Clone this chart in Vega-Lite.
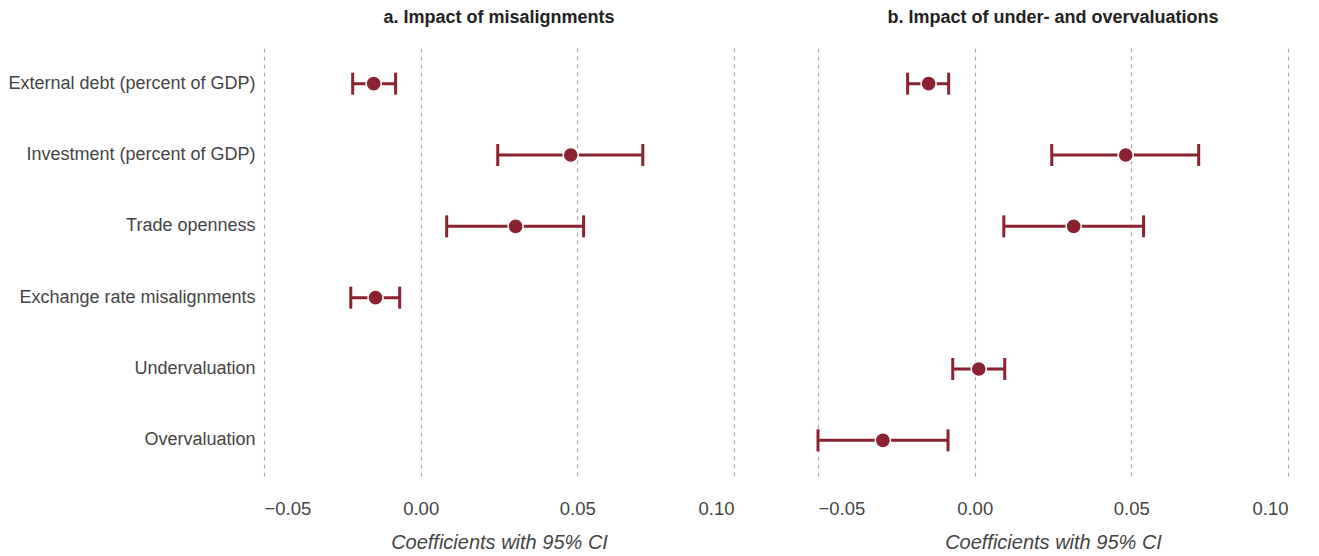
{
  "$schema": "https://vega.github.io/schema/vega-lite/v6.json",
  "padding": {"left": 7, "top": 9, "right": 5, "bottom": 5},
  "background": "white",
  "data": {"values": [
    {"panel": "a. Impact of misalignments", "variable": "External debt (percent of GDP)", "coef": -0.015, "lo": -0.0217, "hi": -0.008},
    {"panel": "a. Impact of misalignments", "variable": "Investment (percent of GDP)", "coef": 0.0479, "lo": 0.0246, "hi": 0.0709},
    {"panel": "a. Impact of misalignments", "variable": "Trade openness", "coef": 0.0303, "lo": 0.0083, "hi": 0.052},
    {"panel": "a. Impact of misalignments", "variable": "Exchange rate misalignments", "coef": -0.0144, "lo": -0.0223, "hi": -0.0067},
    {"panel": "b. Impact of under- and overvaluations", "variable": "External debt (percent of GDP)", "coef": -0.0147, "lo": -0.0214, "hi": -0.0083},
    {"panel": "b. Impact of under- and overvaluations", "variable": "Investment (percent of GDP)", "coef": 0.0482, "lo": 0.0246, "hi": 0.0715},
    {"panel": "b. Impact of under- and overvaluations", "variable": "Trade openness", "coef": 0.0316, "lo": 0.0093, "hi": 0.0539},
    {"panel": "b. Impact of under- and overvaluations", "variable": "Undervaluation", "coef": 0.0013, "lo": -0.007, "hi": 0.0096},
    {"panel": "b. Impact of under- and overvaluations", "variable": "Overvaluation", "coef": -0.0293, "lo": -0.05, "hi": -0.0085}
  ]},
  "facet": {
    "column": {
      "field": "panel", "type": "nominal", "title": null,
      "header": {"labelFont": "Liberation Sans", "labelFontWeight": "bold", "labelFontSize": 18, "labelColor": "#222", "labelPadding": 21, "labelOrient": "top"}
    }
  },
  "spacing": 82,
  "config": {
    "view": {"stroke": null},
    "font": "Liberation Sans"
  },
  "spec": {
    "width": 470,
    "height": 428,
    "encoding": {
      "y": {
        "field": "variable", "type": "nominal",
        "sort": ["External debt (percent of GDP)", "Investment (percent of GDP)", "Trade openness", "Exchange rate misalignments", "Undervaluation", "Overvaluation"],
        "title": null,
        "axis": {"domain": false, "ticks": false, "grid": false, "labelFont": "Liberation Sans", "labelFontSize": 18, "labelColor": "#444", "labelPadding": 9, "labelLimit": 400}
      }
    },
    "layer": [
      {
        "mark": {"type": "rule", "color": "#8a2232", "strokeWidth": 3},
        "encoding": {
          "x": {
            "field": "lo", "type": "quantitative",
            "scale": {"domain": [-0.05, 0.10], "nice": false, "zero": false},
            "title": "Coefficients with 95% CI",
            "axis": {
              "values": [-0.05, 0, 0.05, 0.10], "format": ".2f",
              "domain": false, "ticks": false,
              "grid": true, "gridDash": [4, 4], "gridColor": "#aaaaaa", "gridWidth": 1.2,
              "labelFont": "Liberation Sans", "labelFontSize": 18.5, "labelColor": "#444", "labelPadding": 23,
              "labelExpr": "replace(datum.label, '-', '–')",
              "titleFont": "Liberation Sans", "titleFontStyle": "italic", "titleFontWeight": "normal", "titleFontSize": 20, "titleColor": "#444", "titlePadding": 15
            }
          },
          "x2": {"field": "hi"}
        }
      },
      {
        "mark": {"type": "tick", "color": "#8a2232", "orient": "vertical", "size": 22, "thickness": 3, "opacity": 1},
        "encoding": {"x": {"field": "lo", "type": "quantitative"}}
      },
      {
        "mark": {"type": "tick", "color": "#8a2232", "orient": "vertical", "size": 22, "thickness": 3, "opacity": 1},
        "encoding": {"x": {"field": "hi", "type": "quantitative"}}
      },
      {
        "mark": {"type": "point", "filled": true, "fill": "#8a2232", "opacity": 1, "size": 230, "stroke": "white", "strokeWidth": 1.5, "strokeOpacity": 1},
        "encoding": {"x": {"field": "coef", "type": "quantitative"}}
      }
    ]
  }
}
